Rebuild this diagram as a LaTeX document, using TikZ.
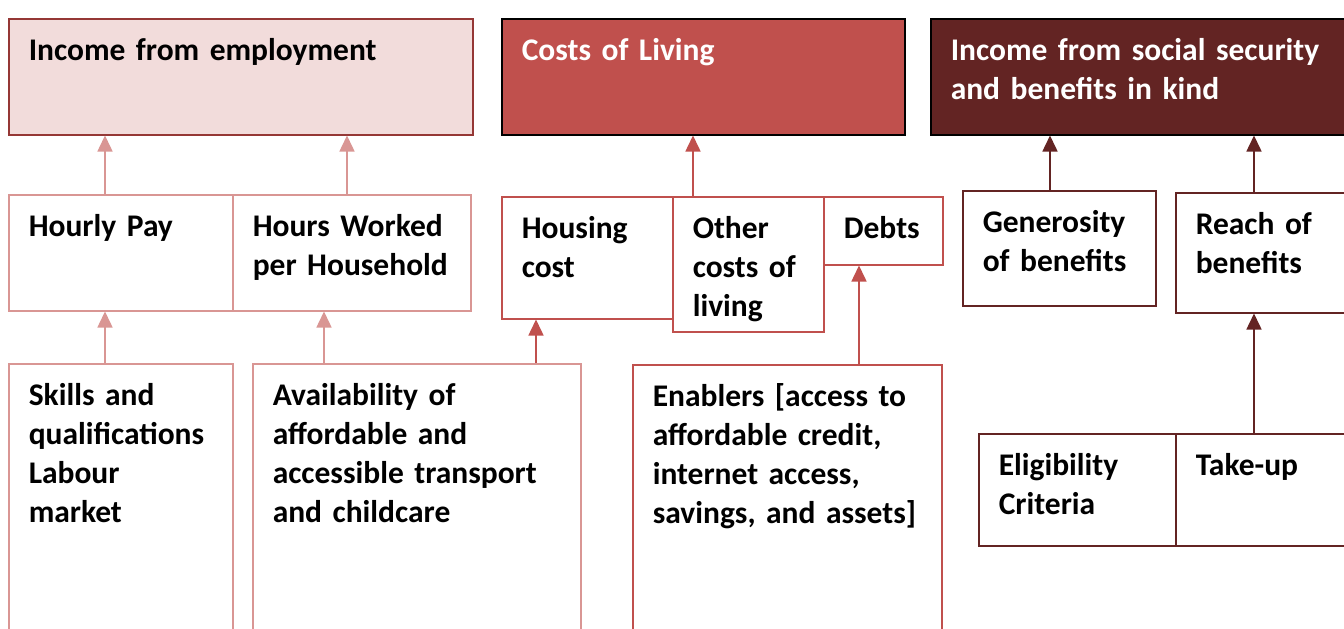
\documentclass[tikz,border=0pt]{standalone}
\usepackage{fontspec}
\setmainfont{Carlito}
\usepackage{tikz}
\usetikzlibrary{arrows.meta}
\usepackage{xcolor}
\definecolor{pinkfill}{HTML}{F2DCDB}
\definecolor{pinkline}{HTML}{D99694}
\definecolor{empline}{HTML}{953735}
\definecolor{costred}{HTML}{C0504D}
\definecolor{socdark}{HTML}{632423}

\begin{document}
\begin{tikzpicture}[x=1pt,y=-1pt,
  box/.style={draw, line width=1.5pt, anchor=north west, align=left, inner xsep=20pt, inner ysep=0pt,
    text height=42pt, font=\fontsize{31.5}{39}\selectfont\bfseries},
  up/.style={line width=1.5pt, -{Triangle[width=15pt,length=16pt]}}]
\useasboundingbox (0,0) rectangle (1344,629);
\clip (0,0) rectangle (1344,629);
%top
\node[box, empline, fill=pinkfill, text=black, text width=424pt, text depth=74pt] (emp) at (8,18) {Income from employment};
\node[box, black, fill=costred, text=white, text width=363pt, text depth=74pt] (col) at (501,18) {Costs of Living};
\node[box, black, fill=socdark, text=white, text width=390pt, text depth=74pt] (soc) at (930,18) {Income from social security\\and benefits in kind};

%middle
\node[box, pinkline, text=black, text width=184pt, text depth=74pt] (hourly) at (8,194) {Hourly Pay};
\node[box, pinkline, text=black, text width=198pt, text depth=74pt] (hours) at (232,194) {Hours Worked\\per Household};
\node[box, costred, text=black, text width=131pt, text depth=80pt] (housing) at (501,196) {Housing\\cost};
\node[box, costred, text=black, text width=111pt, text depth=93pt] (other) at (672,196) {Other\\costs of\\living};
\node[box, costred, text=black, text width=79pt, text depth=26pt] (debts) at (823,196) {Debts};
\node[box, socdark, text=black, text width=153pt, text depth=73pt] (gener) at (962,190) {Generosity\\of benefits};
\node[box, socdark, text=black, text width=150pt, text depth=78pt] (reach) at (1175,192) {Reach of\\benefits};

%bottom
\node[box, pinkline, text=black, text width=184pt, text depth=258pt] (skills) at (8,363) {Skills and\\qualifications\\Labour\\market};
\node[box, pinkline, text=black, text width=288pt, text depth=258pt] (avail) at (252,363) {Availability of\\affordable and\\accessible transport\\and childcare};
\node[box, costred, text=black, text width=269pt, text depth=258pt] (enab) at (632,364) {Enablers [access to\\affordable credit,\\internet access,\\savings, and assets]};
\node[box, socdark, text=black, text width=157pt, text depth=70pt] (elig) at (978,433) {Eligibility\\Criteria};
\node[box, socdark, text=black, text width=150pt, text depth=70pt] (takeup) at (1175,433) {Take-up};

%arrows
\draw[up, pinkline] (hourly.north -| 105,0) -- (emp.south -| 105,0);
\draw[up, pinkline] (hours.north -| 347,0) -- (emp.south -| 347,0);
\draw[up, pinkline] (skills.north -| 105,0) -- (hourly.south -| 105,0);
\draw[up, pinkline] (avail.north -| 324,0) -- (hours.south -| 324,0);
\draw[up, costred] (avail.north -| 536,0) -- (housing.south -| 536,0);
\draw[up, costred] (other.north -| 693,0) -- (col.south -| 693,0);
\draw[up, costred] (enab.north -| 859,0) -- (debts.south -| 859,0);
\draw[up, socdark] (gener.north -| 1050,0) -- (soc.south -| 1050,0);
\draw[up, socdark] (reach.north -| 1254,0) -- (soc.south -| 1254,0);
\draw[up, socdark] (takeup.north -| 1254,0) -- (reach.south -| 1254,0);
\end{tikzpicture}
\end{document}
